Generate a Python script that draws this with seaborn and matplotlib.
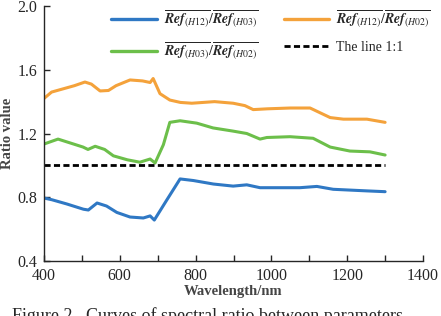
import matplotlib
matplotlib.use("Agg")
import matplotlib.pyplot as plt
import numpy as np
import pandas as pd
import seaborn as sns

# wavelength (nm) and ratio values
wl_h12_h03 = [400, 420, 460, 504, 517, 540, 565, 592, 627, 662, 680, 691,
              724, 759, 794, 847, 899, 935, 970, 1075, 1120, 1163, 1252, 1300]
ratio_h12_h03 = [0.795, 0.785, 0.758, 0.725, 0.72, 0.764, 0.745, 0.705, 0.676,
                 0.67, 0.683, 0.657, 0.783, 0.915, 0.905, 0.883, 0.87, 0.878,
                 0.86, 0.86, 0.868, 0.85, 0.84, 0.835]

wl_h12_h02 = [400, 420, 450, 480, 508, 525, 548, 570, 590, 627, 660, 680,
              688, 706, 732, 760, 790, 850, 899, 930, 952, 990, 1050, 1102,
              1155, 1190, 1252, 1300]
ratio_h12_h02 = [1.42, 1.46, 1.48, 1.50, 1.523, 1.51, 1.467, 1.47, 1.50, 1.536,
                 1.53, 1.52, 1.545, 1.45, 1.41, 1.395, 1.39, 1.40, 1.39, 1.375,
                 1.35, 1.355, 1.36, 1.36, 1.30, 1.29, 1.29, 1.27]

wl_h03_h02 = [400, 437, 470, 503, 516, 535, 560, 583, 620, 653, 680, 693,
              715, 732, 759, 803, 846, 899, 935, 970, 988, 1049, 1110, 1155,
              1207, 1260, 1300]
ratio_h03_h02 = [1.134, 1.165, 1.14, 1.115, 1.10, 1.12, 1.10, 1.06, 1.035,
                 1.02, 1.04, 1.015, 1.13, 1.27, 1.28, 1.265, 1.235, 1.215,
                 1.20, 1.165, 1.175, 1.18, 1.17, 1.115, 1.09, 1.085, 1.065]

line_x = [400, 1300]
line_y = [1.0, 1.0]

LABELS = [
    r"$\overline{\mathbfit{Ref}_{(H12)}}/\overline{\mathbfit{Ref}_{(H03)}}$",
    r"$\overline{\mathbfit{Ref}_{(H12)}}/\overline{\mathbfit{Ref}_{(H02)}}$",
    r"$\overline{\mathbfit{Ref}_{(H03)}}/\overline{\mathbfit{Ref}_{(H02)}}$",
    "The line 1:1",
]
COLORS = ["#2f78c4", "#f4a23b", "#6cbf4a"]

df = pd.concat([
    pd.DataFrame({"wl": wl_h12_h03, "ratio": ratio_h12_h03, "series": LABELS[0]}),
    pd.DataFrame({"wl": wl_h12_h02, "ratio": ratio_h12_h02, "series": LABELS[1]}),
    pd.DataFrame({"wl": wl_h03_h02, "ratio": ratio_h03_h02, "series": LABELS[2]}),
])

sns.set_style("ticks")
plt.rcParams["font.family"] = ["Liberation Serif", "DejaVu Serif"]
plt.rcParams["mathtext.fontset"] = "stix"

fig = plt.figure(figsize=(4.41, 3.16), dpi=100)
ax = fig.add_axes([0.0998, 0.174, 0.8594, 0.807])

sns.lineplot(data=df, x="wl", y="ratio", hue="series", hue_order=LABELS[:3],
             palette=COLORS, linewidth=2.2, ax=ax, sort=True, legend=False)
ax.plot(line_x, line_y, color="black", ls=(0, (2.2, 1.2)), lw=2.0)

handles = [plt.Line2D([], [], color=c, lw=2.4) for c in COLORS]
handles.append(plt.Line2D([], [], color="black", ls=(0, (2.2, 1.2)), lw=2.0))
order = [0, 2, 1, 3]
ax.legend([handles[i] for i in order], [LABELS[i] for i in order],
          ncol=2, frameon=False, loc="upper left", bbox_to_anchor=(0.145, 1.04),
          fontsize=10, handlelength=3.3, columnspacing=1.8, labelspacing=0.75,
          handletextpad=0.5)

ax.set_xlim(400, 1400)
ax.set_ylim(0.4, 2.0)
ax.set_xticks(np.arange(400, 1401, 200))
ax.set_xticks(np.arange(500, 1400, 200), minor=True)
ax.set_yticks([0.4, 0.8, 1.2, 1.6, 2.0])
ax.set_yticklabels(["0.4", "0.8", "1.2", "1.6", "2.0"])
ax.tick_params(direction="in", length=4, width=1, labelsize=11.5)
ax.tick_params(axis="x", pad=5)
ax.tick_params(axis="y", pad=5)
ax.tick_params(which="minor", direction="in", length=4, width=1)
for s in ["top", "right"]:
    ax.spines[s].set_visible(False)
for s in ["left", "bottom"]:
    ax.spines[s].set_linewidth(1.0)

ax.set_xlabel("Wavelength/nm", fontsize=10.5, fontweight="bold", color="#444444",
              labelpad=1)
ax.set_ylabel("Ratio value", fontsize=10.5, fontweight="bold", color="#444444",
              labelpad=2)

fig.text(0.027, 0.0, "Figure 2   Curves of spectral ratio between parameters",
         fontsize=13, ha="left", va="center")

fig.savefig("out.png", dpi=100)
